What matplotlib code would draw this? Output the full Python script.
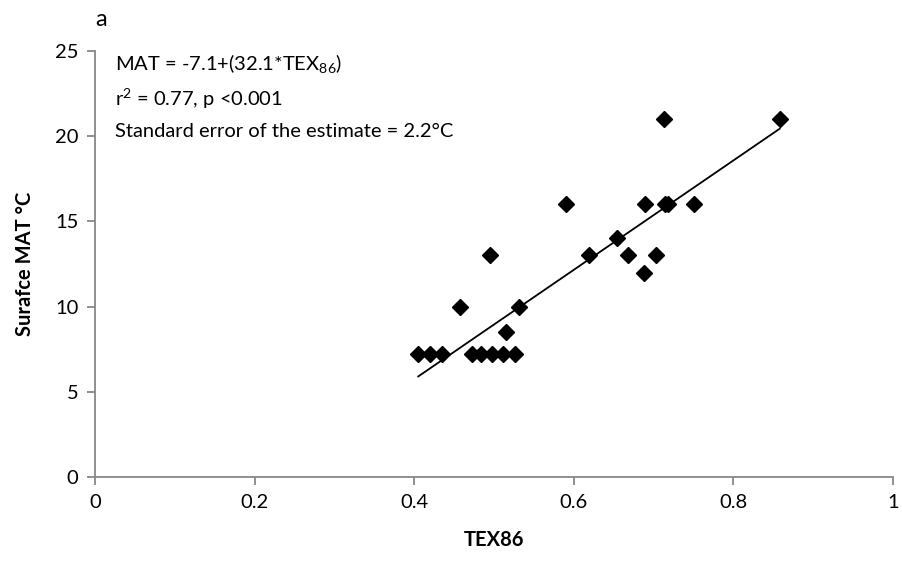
import matplotlib
matplotlib.use("Agg")
import matplotlib.pyplot as plt
import numpy as np

plt.rcParams['font.family'] = ['Lato', 'DejaVu Sans']
plt.rcParams['mathtext.fontset'] = 'custom'
plt.rcParams['mathtext.rm'] = 'Lato'

# TEX86 values and surface MAT (deg C)
tex86 = [0.405, 0.42, 0.435, 0.472, 0.484, 0.497, 0.511, 0.526, 0.515,
         0.457, 0.495, 0.531, 0.590, 0.619, 0.654, 0.668, 0.688, 0.689,
         0.703, 0.713, 0.714, 0.718, 0.751, 0.858]
mat = [7.2, 7.2, 7.2, 7.2, 7.2, 7.2, 7.2, 7.2, 8.5,
       10, 13, 10, 16, 13, 14, 13, 12, 16,
       13, 21, 16, 16, 16, 21]

intercept = -7.1
slope = 32.1

xticks = [0, 0.2, 0.4, 0.6, 0.8, 1]
xticklabels = ["0", "0.2", "0.4", "0.6", "0.8", "1"]
yticks = [0, 5, 10, 15, 20, 25]

fig = plt.figure(figsize=(9.03, 5.68), dpi=100)
ax = fig.add_axes([0.1052, 0.1602, 0.8838, 0.75])

ax.plot(tex86, mat, 'D', color='black', markersize=8.5, zorder=3)

xs = np.array([min(tex86), max(tex86)])
ax.plot(xs, intercept + slope * xs, color='black', linewidth=1.3, zorder=2)

ax.set_xlim(0, 1)
ax.set_ylim(0, 25)
ax.set_xticks(xticks)
ax.set_xticklabels(xticklabels)
ax.set_yticks(yticks)

for s in ['top', 'right']:
    ax.spines[s].set_visible(False)
for s in ['left', 'bottom']:
    ax.spines[s].set_color('#878787')
    ax.spines[s].set_linewidth(1.3)
ax.tick_params(axis='both', direction='out', length=6, width=1.3, color='#878787',
               labelsize=14.5, pad=6)

ax.set_xlabel("TEX86", fontsize=14.5, fontweight='bold', labelpad=14)
ax.set_ylabel("Surafce MAT \u00b0C", fontsize=14.5, fontweight='bold', labelpad=14)

ax.text(0.025, 24.2, "MAT = -7.1+(32.1*TEX$_{86}$)", fontsize=14.5, va='center')
ax.text(0.025, 22.2, "r$^{2}$ = 0.77, p <0.001", fontsize=14.5, va='center')
ax.text(0.025, 20.3, "Standard error of the estimate = 2.2\u00b0C", fontsize=14.5, va='center')

fig.text(0.106, 0.965, "a", fontsize=17, va='center')

fig.savefig("out.png", dpi=100)
